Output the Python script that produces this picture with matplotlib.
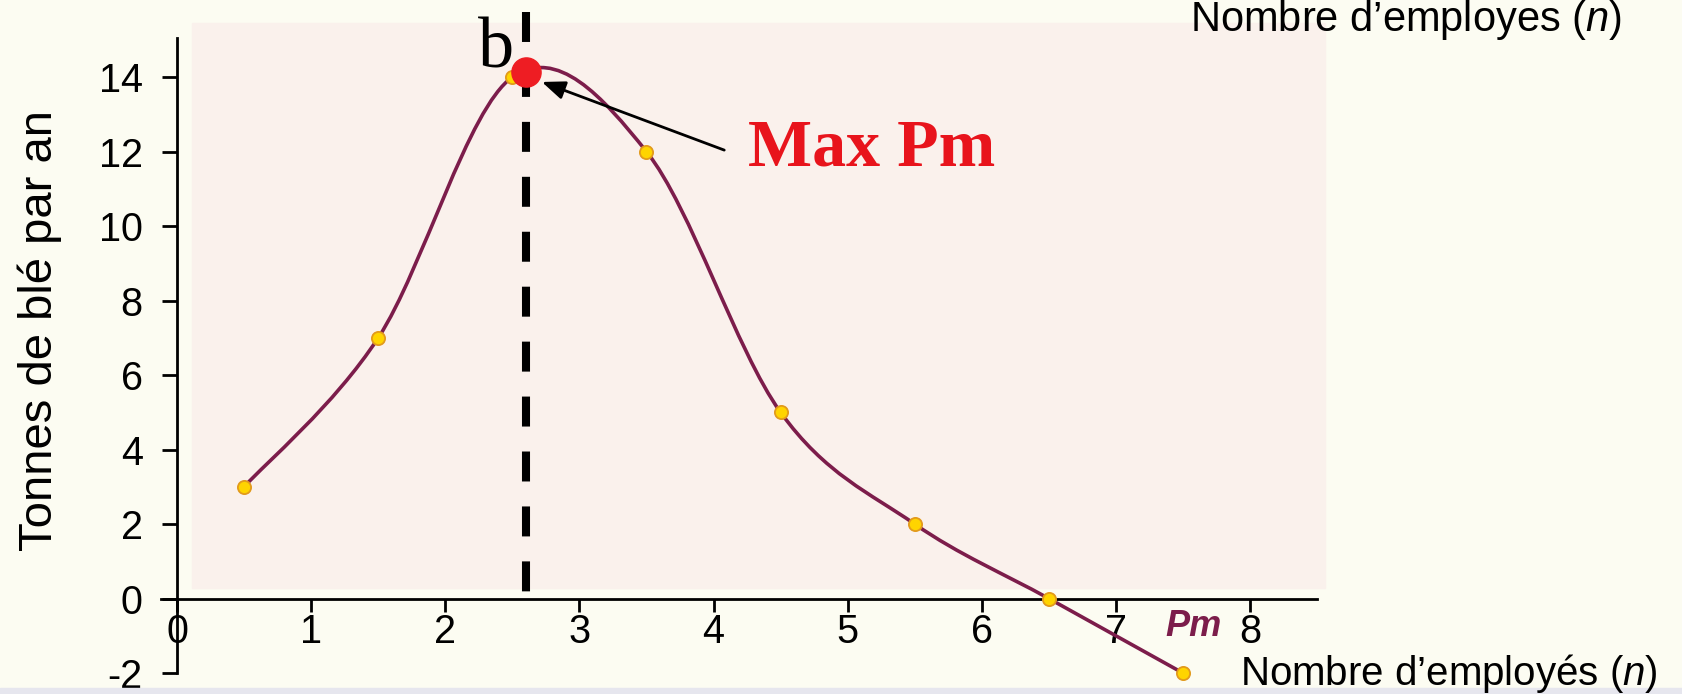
import numpy as np
import matplotlib.pyplot as plt
from matplotlib.path import Path
from matplotlib.patches import PathPatch, Rectangle

plt.rcParams["font.family"] = ["Liberation Sans", "DejaVu Sans"]
plt.rcParams["mathtext.fontset"] = "custom"
plt.rcParams["mathtext.it"] = "Liberation Sans:italic"
plt.rcParams["mathtext.rm"] = "Liberation Sans"
plt.rcParams["axes.unicode_minus"] = False

# données
n_employes = [0.5, 1.5, 2.5, 3.5, 4.5, 5.5, 6.5, 7.5]
pm = [3, 7, 14, 12, 5, 2, 0, -2]
max_n, max_pm = 2.6, 14.15
x_ticks = list(range(0, 9))
y_ticks = list(range(-2, 15, 2))

CREAM = "#fcfcf2"
PINK = "#faf1ec"
MAROON = "#7c1d4b"


def smooth_path(xs, ys):
    # courbe lissée type tableur : Catmull-Rom -> Bézier cubiques
    p = np.column_stack([xs, ys]).astype(float)
    pad = np.vstack([p[0], p, p[-1]])
    verts, codes = [p[0]], [Path.MOVETO]
    for i in range(len(p) - 1):
        p0, p1, p2, p3 = pad[i], pad[i + 1], pad[i + 2], pad[i + 3]
        verts += [p1 + (p2 - p0) / 6, p2 - (p3 - p1) / 6, p2]
        codes += [Path.CURVE4] * 3
    return Path(verts, codes)


fig = plt.figure(figsize=(16.82, 6.94), dpi=100, facecolor=CREAM)
fig.patches.append(Rectangle((0, 0), 1, 6 / 694, transform=fig.transFigure,
                             color="#e6e6ee", zorder=0))
ax = fig.add_axes([161 / 1682, 21 / 694, 1156 / 1682, 635 / 694])
ax.set_facecolor("none")
ax.set_xlim(-0.12, 8.5)
ax.set_ylim(-2, 15.05)

ax.add_patch(Rectangle((0.11, 0.28), 8.45, 15.18, color=PINK, zorder=0,
                       clip_on=False))

for side in ["top", "right"]:
    ax.spines[side].set_visible(False)
ax.spines["left"].set_position(("data", 0))
ax.spines["bottom"].set_position(("data", 0))
for side in ["left", "bottom"]:
    ax.spines[side].set_linewidth(2)

ax.set_xticks(x_ticks)
ax.set_yticks(y_ticks)
ax.tick_params(axis="both", labelsize=28.5, width=2, direction="out")
ax.tick_params(axis="x", length=9.4, pad=1)
ax.tick_params(axis="y", length=10.8, pad=14)

ax.add_patch(PathPatch(smooth_path(n_employes, pm), facecolor="none",
                       edgecolor=MAROON, lw=2.6, zorder=2, clip_on=False))
ax.plot(n_employes, pm, "o", ms=9.5, mfc="#ffd400", mec="#e29a1c", mew=1.3,
        zorder=3, clip_on=False)

ax.plot([max_n, max_n], [15.75, 0.15], color="black", lw=5.8,
        dashes=(3.72, 3.1), zorder=4, clip_on=False)
ax.plot(max_n, max_pm, "o", ms=21, color="#ee1d23", zorder=5, clip_on=False)

ax.annotate("", xy=(2.72, 13.87), xytext=(4.08, 12.04),
            arrowprops=dict(arrowstyle="-|>,head_length=0.5,head_width=0.2",
                            color="black", lw=2, mutation_scale=28,
                            shrinkA=0, shrinkB=0), zorder=6)
ax.text(4.26, 11.64, "Max Pm", color="#e8141c", fontsize=49,
        fontweight="bold", family="Liberation Serif", ha="left",
        va="baseline", zorder=6)
ax.text(2.38, 14.27, "b", fontsize=52, family="Liberation Serif",
        ha="center", va="baseline", zorder=6)
ax.text(7.58, -0.76, "Pm", color=MAROON, fontsize=26, fontweight="bold",
        fontstyle="italic", ha="center", va="center")

ax.set_ylabel("Tonnes de blé par an", fontsize=34)
ax.yaxis.set_label_coords(-0.086, 0.539)

fig.text(1240 / 1682, 9 / 694, "Nombre d\u2019employés ($\\mathit{n}$)",
         fontsize=29, ha="left", va="baseline")
fig.text(1190 / 1682, 1 - 31 / 694, "Nombre d\u2019employes ($\\mathit{n}$)",
         fontsize=30, ha="left", va="baseline")

fig.savefig("out.png", dpi=100, facecolor=CREAM)
